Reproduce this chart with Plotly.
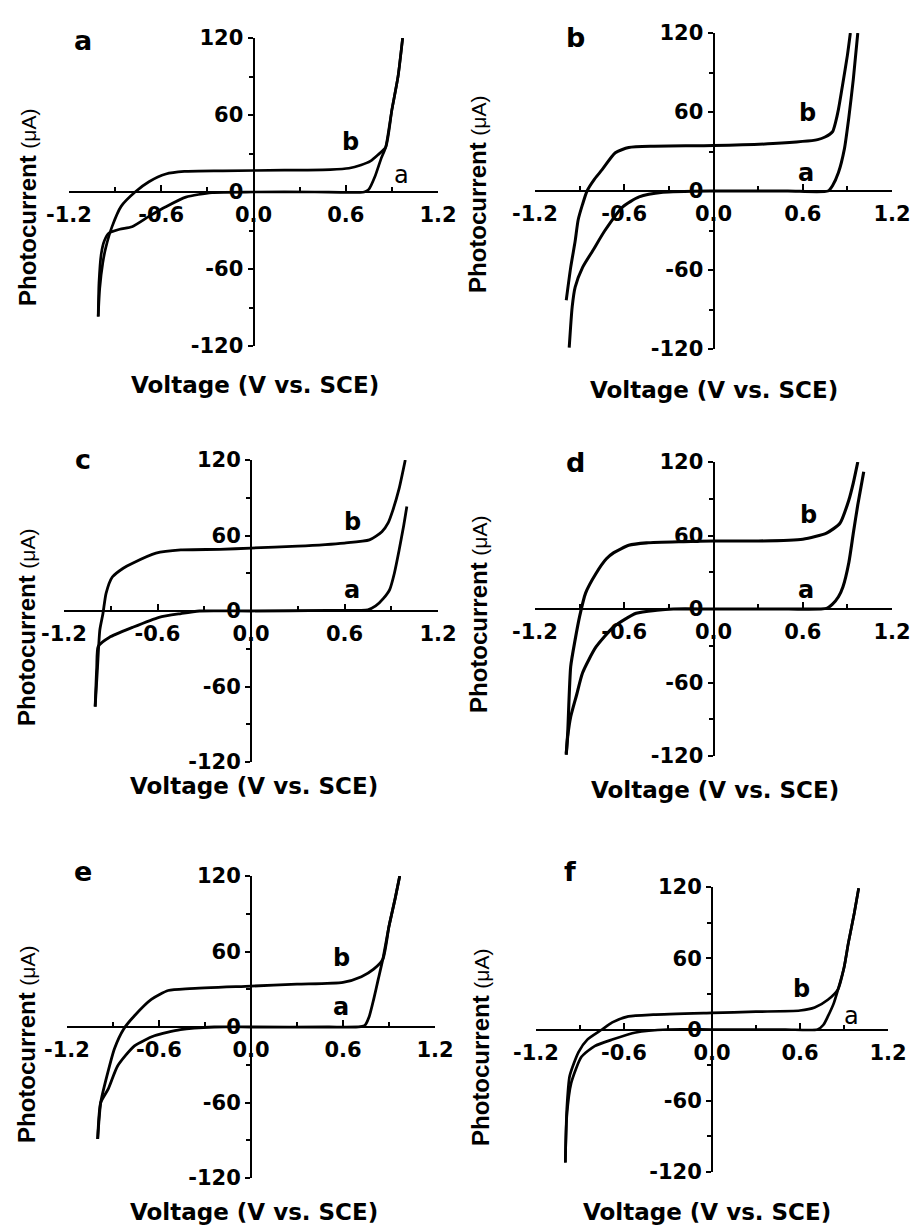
import plotly.graph_objects as go

# ---------------- data ----------------
# panel a
pa_va = [-1.01, -1.005, -0.99, -0.97, -0.94, -0.87, -0.79, -0.68, -0.57, -0.44, -0.27, 0.0, 0.4, 0.72, 0.75, 0.79, 0.83, 0.86, 0.90, 0.94, 0.97]
pa_ia = [-97, -71, -48, -38, -32, -29, -27, -19, -11.5, -4, -0.5, 0, 0, 0, 2, 12, 26, 35, 64, 90, 120]
pa_vb = [-1.01, -1.0, -0.98, -0.96, -0.92, -0.86, -0.77, -0.68, -0.57, -0.45, -0.2, 0.2, 0.5, 0.62, 0.70, 0.76, 0.81, 0.86, 0.90, 0.94, 0.97]
pa_ib = [-97, -75, -55, -43, -27, -11, 0, 8, 14, 16, 16.5, 17, 17.5, 18.5, 21, 24, 29, 35, 64, 90, 120]

# panel b
pb_va = [-0.97, -0.95, -0.93, -0.88, -0.81, -0.73, -0.61, -0.50, -0.34, 0.0, 0.5, 0.77, 0.80, 0.84, 0.88, 0.91, 0.94, 0.97]
pb_ia = [-119, -88, -73, -58, -45, -30, -12, -4.5, -1, 0, 0, 0, 4, 14, 32, 56, 85, 120]
pb_vb = [-0.99, -0.96, -0.93, -0.91, -0.88, -0.85, -0.80, -0.75, -0.66, -0.57, -0.4, 0.0, 0.4, 0.7, 0.75, 0.80, 0.82, 0.84, 0.87, 0.90, 0.92]
pb_ib = [-83, -58, -38, -22, -10, 0, 9, 16, 29, 33, 34, 34.5, 36, 39, 41, 45, 52, 62, 82, 103, 120]

# panel c
pc_va = [-1.0, -0.99, -0.98, -0.91, -0.76, -0.59, -0.45, -0.33, 0.0, 0.5, 0.75, 0.80, 0.85, 0.89, 0.92, 0.95, 0.98, 1.0]
pc_ia = [-76, -45, -28, -21, -13, -5, -2, 0, 0, 0.5, 1, 4, 10, 17, 30, 48, 68, 83]
pc_vb = [-1.0, -0.985, -0.97, -0.95, -0.93, -0.89, -0.82, -0.76, -0.61, -0.45, -0.2, 0.0, 0.3, 0.6, 0.76, 0.84, 0.88, 0.91, 0.95, 0.99]
pc_ib = [-76, -45, -15, -2, 14, 27, 34, 38, 46, 48.5, 49, 50, 51.5, 54, 56.5, 63, 70, 80, 97, 120]

# panel d
pd_va = [-0.99, -0.98, -0.96, -0.92, -0.88, -0.79, -0.67, -0.52, -0.38, -0.27, 0.0, 0.5, 0.76, 0.80, 0.84, 0.87, 0.91, 0.94, 0.97, 1.01]
pd_ia = [-118, -104, -88, -70, -52, -31, -14.5, -3.5, -1, 0, 0, 0, 0.5, 4, 10, 18, 38, 62, 85, 112]
pd_vb = [-0.99, -0.98, -0.96, -0.93, -0.90, -0.86, -0.79, -0.72, -0.67, -0.57, -0.45, -0.2, 0.0, 0.3, 0.6, 0.76, 0.85, 0.91, 0.94, 0.97]
pd_ib = [-119, -101, -47, -25, -6, 13, 29, 41, 46, 52, 54, 55, 55.5, 55.5, 57, 62, 70, 89, 103, 120]

# panel e
pe_va = [-1.0, -0.98, -0.93, -0.87, -0.76, -0.63, -0.46, -0.24, 0.0, 0.5, 0.74, 0.77, 0.80, 0.83, 0.86, 0.90, 0.94, 0.97]
pe_ia = [-89, -60, -49, -31, -15, -7, -2, 0, 0, 0, 1, 8, 22, 38, 54, 80, 102, 120]
pe_vb = [-1.0, -0.98, -0.94, -0.89, -0.83, -0.76, -0.65, -0.54, -0.4, 0.0, 0.3, 0.6, 0.72, 0.80, 0.86, 0.90, 0.94, 0.97]
pe_ib = [-89, -60, -39, -17, -1.5, 9, 22, 29, 30.5, 32.5, 34, 35.5, 40, 46, 54, 80, 102, 120]

# panel f
pf_va = [-1.0, -0.99, -0.96, -0.89, -0.80, -0.68, -0.52, -0.30, 0.0, 0.5, 0.72, 0.76, 0.79, 0.83, 0.86, 0.90, 0.93, 0.97, 1.0]
pf_ia = [-112, -73, -45, -23, -14, -8.5, -2.5, 0, 0, 0, 0, 4, 11, 22, 34, 52, 73, 98, 119]
pf_vb = [-1.0, -0.99, -0.97, -0.91, -0.85, -0.75, -0.68, -0.57, -0.4, 0.0, 0.3, 0.6, 0.70, 0.79, 0.86, 0.90, 0.93, 0.97, 1.0]
pf_ib = [-112, -67, -39, -19, -8.5, 0, 6, 11, 12.5, 14, 15, 16, 18.5, 25, 34, 52, 73, 98, 119]

panel_letters = ["a", "b", "c", "d", "e", "f"]
x_tickvals = [-1.2, -0.6, 0.0, 0.6, 1.2]
x_ticktext = ["-1.2", "-0.6", "0.0", "0.6", "1.2"]
x_minorvals = [-0.9, -0.3, 0.3, 0.9]
y_tickvals = [-120, -60, 0, 60, 120]
y_ticktext = ["-120", "-60", "0", "60", "120"]
y_minorvals = [-90, -30, 30, 90]
x_title = "Voltage (V vs. SCE)"
y_title = "<b>Photocurrent</b> <span style='font-size:21px'>(μA)</span>"

# curve label positions (V, µA) for "b" and "a"
lab_b = [(0.63, 39), (0.63, 59), (0.65, 71), (0.64, 77), (0.59, 55), (0.61, 34)]
lab_a = [(0.96, 13), (0.62, 14), (0.65, 17), (0.62, 15.5), (0.59, 16), (0.95, 11)]
lab_a_bold = [False, True, True, True, True, False]

curves = [
    (pa_va, pa_ia, pa_vb, pa_ib),
    (pb_va, pb_ia, pb_vb, pb_ib),
    (pc_va, pc_ia, pc_vb, pc_ib),
    (pd_va, pd_ia, pd_vb, pd_ib),
    (pe_va, pe_ia, pe_vb, pe_ib),
    (pf_va, pf_ia, pf_vb, pf_ib),
]

# ---------------- layout geometry (page pixels in the 911x1226 window) ----------------
W, H = 911, 1226


def fx(p):
    return p / W


def fy(p):
    return 1 - p / H


# (x_left, x_right, y_top, y_bottom) of the -1.2..1.2 / 120..-120 frame
boxes = [
    (69, 438, 38, 346),
    (535, 892, 33, 349),
    (64, 438, 460, 762),
    (535, 892, 462, 756),
    (67, 435, 876, 1178),
    (536, 888, 887, 1172),
]
letter_pos = [(83, 40), (575, 37), (83, 460), (575, 462), (83, 872), (570, 872)]
xtitle_pos = [(255, 385), (714, 390), (254, 786), (715, 790), (254, 1212), (707, 1212)]
ytitle_pos = [(27, 208), (477, 194), (26, 628), (478, 615), (26, 1045), (480, 1048)]
curve_w = [2.7, 3.0, 2.8, 3.1, 2.8, 2.7]

TICKFONT = dict(family="DejaVu Sans", size=21, color="black", weight="bold")

fig = go.Figure()
layout = dict(
    width=W, height=H, autosize=False,
    margin=dict(l=0, r=0, t=0, b=0, autoexpand=False),
    paper_bgcolor="white", plot_bgcolor="white",
    showlegend=False,
)
annotations = []

for i, (box, cv) in enumerate(zip(boxes, curves)):
    k = "" if i == 0 else str(i + 1)
    xl, xr, yt, yb = box
    xdom = [fx(xl), fx(xr)]
    ydom = [fy(yb), fy(yt)]
    va, ia, vb, ib = cv
    for vx, iy in ((va, ia), (vb, ib)):
        fig.add_trace(go.Scatter(
            x=vx, y=iy, mode="lines",
            line=dict(color="black", width=curve_w[i], shape="spline", smoothing=0.6),
            xaxis="x" + k, yaxis="y" + k, hoverinfo="skip",
        ))
    layout["xaxis" + k] = dict(
        domain=xdom, range=[-1.2, 1.2], anchor="free", automargin=False,
        position=(ydom[0] + ydom[1]) / 2,
        showgrid=False, zeroline=False, showline=True, linecolor="black", linewidth=2,
        tickmode="array", tickvals=x_tickvals, ticktext=x_ticktext,
        ticks="inside", ticklen=6, tickwidth=2, tickcolor="black",
        ticklabelstandoff=4,
        minor=dict(tickmode="array", tickvals=x_minorvals, ticks="inside",
                   ticklen=4, tickwidth=2, tickcolor="black"),
        tickfont=TICKFONT,
    )
    layout["yaxis" + k] = dict(
        domain=ydom, range=[-120, 120], anchor="free", automargin=False,
        position=(xdom[0] + xdom[1]) / 2,
        showgrid=False, zeroline=False, showline=True, linecolor="black", linewidth=2,
        tickmode="array", tickvals=y_tickvals, ticktext=y_ticktext,
        ticks="outside", ticklen=5, tickwidth=2, tickcolor="black",
        minor=dict(tickmode="array", tickvals=y_minorvals, ticks="outside",
                   ticklen=4, tickwidth=2, tickcolor="black"),
        tickfont=TICKFONT,
    )
    # panel letter
    lx, ly = letter_pos[i]
    annotations.append(dict(
        text=panel_letters[i], x=fx(lx), y=fy(ly), xref="paper", yref="paper",
        xanchor="center", yanchor="middle", showarrow=False,
        font=dict(family="DejaVu Sans", size=27, color="black", weight="bold"),
    ))
    # x title
    tx, ty = xtitle_pos[i]
    annotations.append(dict(
        text=x_title, x=fx(tx), y=fy(ty), xref="paper", yref="paper",
        xanchor="center", yanchor="middle", showarrow=False,
        font=dict(family="DejaVu Sans", size=23, color="black", weight="bold"),
    ))
    # y title
    px_, py_ = ytitle_pos[i]
    annotations.append(dict(
        text=y_title, x=fx(px_), y=fy(py_), xref="paper", yref="paper",
        xanchor="center", yanchor="middle", showarrow=False, textangle=-90,
        font=dict(family="Liberation Sans", size=24, color="black"),
    ))
    # curve labels
    bx, by = lab_b[i]
    annotations.append(dict(
        text="b", x=bx, y=by, xref="x" + k, yref="y" + k, showarrow=False,
        xanchor="center", yanchor="middle",
        font=dict(family="DejaVu Sans", size=24, color="black", weight="bold"),
    ))
    ax, ay = lab_a[i]
    annotations.append(dict(
        text="a", x=ax, y=ay, xref="x" + k, yref="y" + k, showarrow=False,
        xanchor="center", yanchor="middle",
        font=dict(family="DejaVu Sans", size=24, color="black",
                  weight="bold" if lab_a_bold[i] else "normal"),
    ))

layout["annotations"] = annotations
fig.update_layout(**layout)
fig.write_html(
    "out.html",
    config={"displayModeBar": False},
    post_script="document.body.style.margin='0px';document.body.style.overflow='hidden';",
)
